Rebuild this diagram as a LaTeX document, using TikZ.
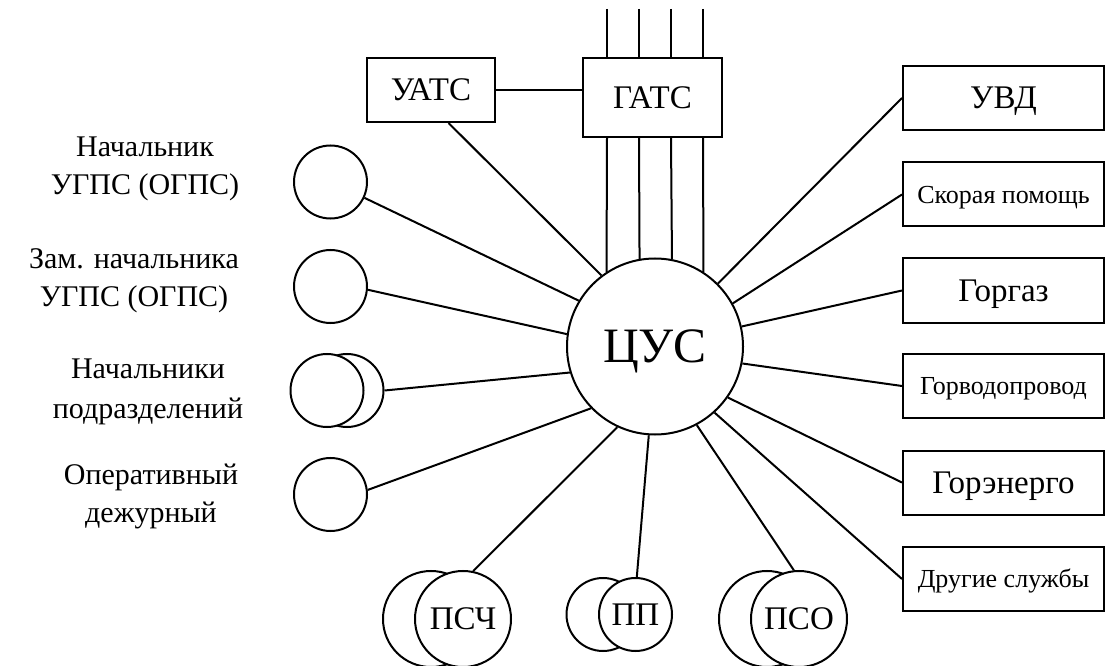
\documentclass[tikz,border=0pt]{standalone}
\usepackage{fontspec}
\setmainfont{Liberation Serif}

\begin{document}
\begin{tikzpicture}[x=0.4pt, y=-0.4pt, line width=0.8pt,
  caps/.style={text height=#1, text depth=0pt},
  station/.style={draw, fill=white, caps=8.7pt, minimum width=51.2pt, minimum height=25.6pt, inner sep=0pt, font=\fontsize{13.2}{15}\selectfont},
  service/.style={draw, fill=white, caps=8.7pt, minimum width=80.4pt, minimum height=25.6pt, inner sep=0pt, font=\fontsize{13.2}{15}\selectfont},
  smalltext/.style={caps=6.9pt, font=\fontsize{10.4}{12}\selectfont},
  post/.style={draw, circle, fill=white, caps=8.7pt, minimum size=29.2pt, inner sep=0pt, font=\fontsize{13.2}{15}\selectfont},
  unit/.style={draw, circle, fill=white, caps=8.7pt, minimum size=38.4pt, inner sep=0pt, font=\fontsize{13.2}{15}\selectfont},
  who/.style={align=center, inner sep=0pt, font=\fontsize{12}{15.2}\selectfont}]
  \useasboundingbox (0,0) rectangle (1108,666);

  % centre and the telephone exchanges
  \node[draw, circle, caps=13.1pt, minimum size=70.4pt, inner sep=0pt, font=\fontsize{19.8}{22}\selectfont] (cus) at (655,346.5) {ЦУС};
  \node[station] (uats) at (431,90) {УАТС};
  \node[station, minimum width=55.6pt, minimum height=31.6pt] (gats) at (652.5,97.5) {ГАТС};
  \draw (uats.east) -- (uats.east -| gats.west);
  \draw (uats.-62) -- (cus.127.6);

  % trunk lines through the city exchange
  \coordinate (trunk1) at (607,9);
  \coordinate (trunk2) at (639,9);
  \coordinate (trunk3) at (671,9);
  \coordinate (trunk4) at (703,9);
  \draw (trunk1) -- (trunk1 |- gats.north);
  \draw (trunk2) -- (trunk2 |- gats.north);
  \draw (trunk3) -- (trunk3 |- gats.north);
  \draw (trunk4) -- (trunk4 |- gats.north);
  \draw (gats.south -| trunk1) -- (cus.123);
  \draw (gats.south -| trunk2) -- (cus.100.5);
  \draw (gats.south -| trunk3) -- (cus.79.5);
  \draw (gats.south -| trunk4) -- (cus.57);

  % city services
  \node[service] (uvd) at (1003.5,98) {УВД};
  \node[service, smalltext] (ambulance) at (1003.5,194.5) {Скорая помощь};
  \node[service] (gas) at (1003.5,290.5) {Горгаз};
  \node[service, smalltext] (water) at (1003.5,386) {Горводопровод};
  \node[service] (power) at (1003.5,482.5) {Горэнерго};
  \node[service, smalltext] (others) at (1003.5,579) {Другие службы};
  \draw (uvd.west) -- (cus.45);
  \draw (ambulance.west) -- (cus.29);
  \draw (gas.west) -- (cus.13);
  \draw (water.west) -- (cus.-11);
  \draw (power.west) -- (cus.-35);
  \draw (others.west) -- (cus.-48);

  % officials
  \node[who] (chieflbl) at (145,169) {Начальник\\УГПС (ОГПС)};
  \node[who] (deputylbl) at (134,281) {Зам. начальника\\УГПС (ОГПС)};
  \node[who, font=\fontsize{12}{16}\selectfont] (headslbl) at (148,392) {Начальники\\подразделений};
  \node[who] (dutylbl) at (151,496) {Оперативный\\дежурный};
  \node[post] (chief) at (330.5,182) {};
  \node[post] (deputy) at (330.5,286.5) {};
  \node[post] (heads2) at (347,390.5) {};
  \node[post] (heads1) at (327,390.5) {};
  \node[post] (duty) at (330.5,494.5) {};
  \draw (chief.335) -- (cus.149);
  \draw (deputy.355) -- (cus.172);
  \draw (heads2.east) -- (cus.197.6);
  \draw (duty.7) -- (cus.224);

  % fire units
  \node[unit] (psch2) at (431,619) {};
  \node[unit] (psch) at (463,619) {ПСЧ};
  \node[post] (pp2) at (603,614.5) {};
  \node[post] (pp) at (635.5,614.5) {ПП};
  \node[unit] (pso2) at (767,619) {};
  \node[unit] (pso) at (799,619) {ПСО};
  \draw (psch.78) -- (cus.245);
  \draw (pp.88) -- (cus.266.7);
  \draw (pso.96) -- (cus.298);
\end{tikzpicture}
\end{document}
